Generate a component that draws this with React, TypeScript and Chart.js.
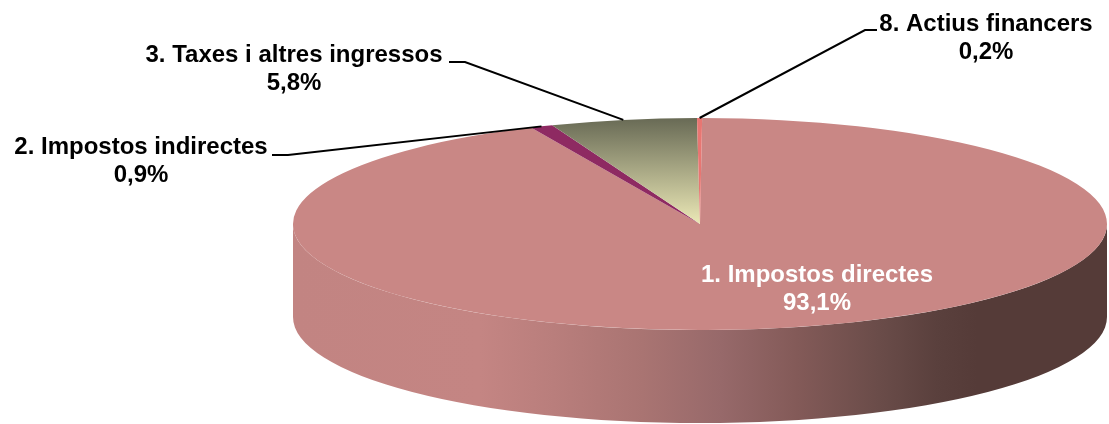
import React, { useEffect, useRef } from "react";
import { Chart, registerables } from "chart.js";

Chart.register(...registerables);

const categories = ["1. Impostos directes", "2. Impostos indirectes", "3. Taxes i altres ingressos", "8. Actius financers"];
const values = [93.1, 0.9, 5.8, 0.2];
const sliceColors = ["#c98785", "#8e2a62", "", "#e87672"];
const greenStops = ["#686a55", "#ebe8b6"];
const sideStops: [number, string][] = [
  [0, "#c28482"], [0.23, "#c48583"], [0.32, "#b97e7c"], [0.43, "#a97472"], [0.525, "#97696a"],
  [0.62, "#835a58"], [0.72, "#6a4c49"], [0.79, "#5a403d"], [0.84, "#553b38"], [1, "#553b38"],
];
const labelColors = ["#ffffff", "#000000", "#000000", "#000000"];
const labelCenters = [[817, 275], [141, 147], [294, 55], [986, 24]];
const leaderElbows = [null, [[272, 155], [288, 155]], [[449, 62], [465, 62]], [[877, 30], [865, 30]]];
const LINE_GAP = 28.5;
const FONT = 'bold 24px "Liberation Sans", Arial, sans-serif';

const CX = 700, CY = 224, RX = 407, RY = 106, DEPTH = 93;
const ROTATION = 0.3;

const threeD = {
  id: "threeD",
  beforeDatasetsDraw(chart: any) {
    const { ctx } = chart;
    const arc = chart.getDatasetMeta(0).data[0];
    const g = ctx.createLinearGradient(CX - RX, 0, CX + RX, 0);
    sideStops.forEach(([o, c]) => g.addColorStop(o, c));
    ctx.save();
    ctx.beginPath();
    ctx.ellipse(CX, CY, RX, RY, 0, 0, Math.PI);
    ctx.lineTo(CX - RX, CY + DEPTH);
    ctx.ellipse(CX, CY + DEPTH, RX, RY, 0, Math.PI, 0, true);
    ctx.closePath();
    ctx.fillStyle = g;
    ctx.fill();
    ctx.restore();
    ctx.save();
    ctx.translate(CX, CY);
    ctx.scale(RX / arc.outerRadius, RY / arc.outerRadius);
    ctx.translate(-arc.x, -arc.y);
  },
  afterDatasetsDraw(chart: any) {
    const { ctx } = chart;
    ctx.restore();
    const meta = chart.getDatasetMeta(0);
    ctx.save();
    ctx.font = FONT;
    ctx.textAlign = "center";
    ctx.textBaseline = "middle";
    categories.forEach((name, i) => {
      const elbow = leaderElbows[i];
      if (elbow) {
        const a = meta.data[i];
        const mid = (a.startAngle + a.endAngle) / 2;
        ctx.beginPath();
        ctx.moveTo(elbow[0][0], elbow[0][1]);
        ctx.lineTo(elbow[1][0], elbow[1][1]);
        ctx.lineTo(CX + RX * Math.cos(mid), CY + RY * Math.sin(mid));
        ctx.strokeStyle = "#000000";
        ctx.lineWidth = 2;
        ctx.stroke();
      }
      const [x, y] = labelCenters[i];
      ctx.fillStyle = labelColors[i];
      ctx.fillText(name, x, y);
      ctx.fillText(values[i].toFixed(1).replace(".", ",") + "%", x, y + LINE_GAP);
    });
    ctx.restore();
  },
};

export default function App() {
  const ref = useRef<HTMLCanvasElement>(null);
  useEffect(() => {
    const chart = new Chart(ref.current as HTMLCanvasElement, {
      type: "pie",
      data: {
        labels: categories,
        datasets: [{
          data: values,
          clip: false,
          borderWidth: 0,
          backgroundColor: (c: any) => {
            const color = sliceColors[c.dataIndex];
            if (color) return color;
            const area = c.chart.chartArea;
            if (!area) return greenStops[1];
            const g = c.chart.ctx.createLinearGradient(0, area.top, 0, (area.top + area.bottom) / 2);
            g.addColorStop(0, greenStops[0]);
            g.addColorStop(1, greenStops[1]);
            return g;
          },
        } as any],
      },
      options: {
        responsive: false,
        animation: false,
        rotation: ROTATION,
        plugins: { legend: { display: false }, tooltip: { enabled: false } },
        layout: { padding: 0 },
      },
      plugins: [threeD],
    });
    return () => chart.destroy();
  }, []);
  return (
    <div style={{ position: "fixed", left: 0, top: 0, width: 1109, height: 424, background: "#fff" }}>
      <canvas ref={ref} width={1109} height={424} style={{ display: "block" }} />
    </div>
  );
}
